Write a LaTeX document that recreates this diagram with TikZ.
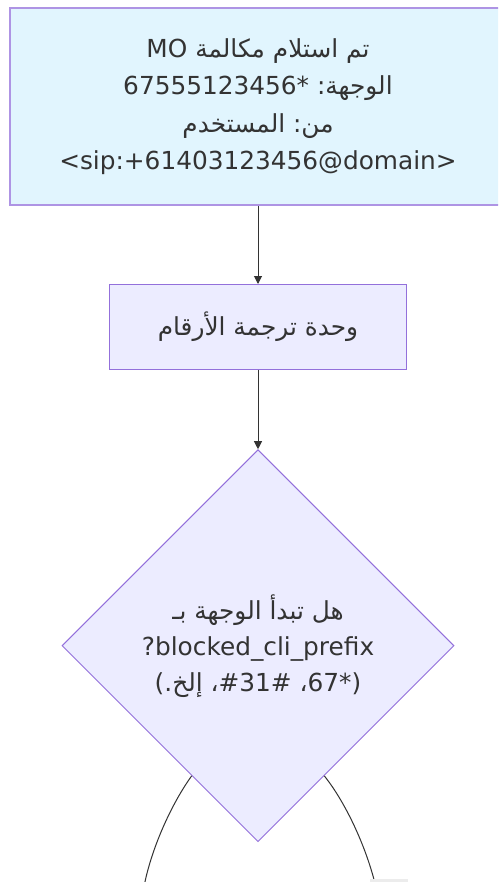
\documentclass[tikz,border=0pt]{standalone}
\usepackage{fontspec}
\setmainfont{DejaVu Sans}
\newfontfamily\arabicfont[Script=Arabic]{DejaVu Sans}
\TeXXeTstate=1
\usepackage{xcolor}
\usepackage{tikz}
\usetikzlibrary{arrows.meta,positioning,shapes.geometric}
\definecolor{nodefillblue}{HTML}{E1F5FE}
\definecolor{nodefill}{HTML}{ECECFF}
\definecolor{nodeline}{HTML}{9370DB}
\definecolor{textgray}{HTML}{333333}
\definecolor{labelbg}{HTML}{ECECEC}
\newcommand{\ar}[1]{{\arabicfont\beginR #1\endR}}

\begin{document}
\begin{tikzpicture}[
  x=1pt, y=-1pt,
  box/.style={draw=nodeline, rectangle, align=center, text=textgray,
              font=\fontsize{24.8}{37.5}\selectfont, inner sep=0pt},
  decision/.style={draw=nodeline, diamond, align=center, text=textgray,
              fill=nodefill, line width=1pt, inner sep=0pt,
              minimum width=392pt, minimum height=392pt,
              font=\fontsize{24.8}{36}\selectfont},
  flow/.style={draw=textgray, line width=1pt, -{Triangle[length=8pt,width=8pt]}},
  branch/.style={draw=textgray, line width=1pt},
]
  \useasboundingbox (0,0) rectangle (498,882);
  \clip (0,0) rectangle (498,882);
  \fill[white] (0,0) rectangle (498,882);

  \node[box, fill=nodefillblue, draw=nodeline!75, line width=2pt,
        minimum width=496pt, minimum height=197pt] (received) at (258,106.5)
    {MO \ar{تم استلام مكالمة}\\
     67555123456* :\ar{الوجهة}\\
     \ar{المستخدم} :\ar{من}\\
     <sip:+61403123456@domain>};
  \node[box, fill=nodefill, line width=1.2pt, minimum width=297pt,
        minimum height=85pt, below=78pt of received] (translation)
    {\ar{وحدة ترجمة الأرقام}};
  \node[decision, below=79pt of translation] (prefixcheck)
    {\ar{هل تبدأ الوجهة بـ}\\
     ?blocked\_cli\_prefix\\
     (.\ar{إلخ} ،\#31\# ،67*)};

  \coordinate (leftout) at (143,892);
  \coordinate (rightout) at (377,892);

  \draw[flow] (received.south) -- (translation.north);
  \draw[flow] (translation.south) -- (prefixcheck.north);
  \draw[branch] (prefixcheck.243) .. controls (172,803) and (150,850) .. (leftout);
  \draw[branch] (prefixcheck.297) .. controls (346,803) and (368,850) .. (rightout);
  \fill[labelbg] (370,879) rectangle (408,890);
\end{tikzpicture}
\end{document}
